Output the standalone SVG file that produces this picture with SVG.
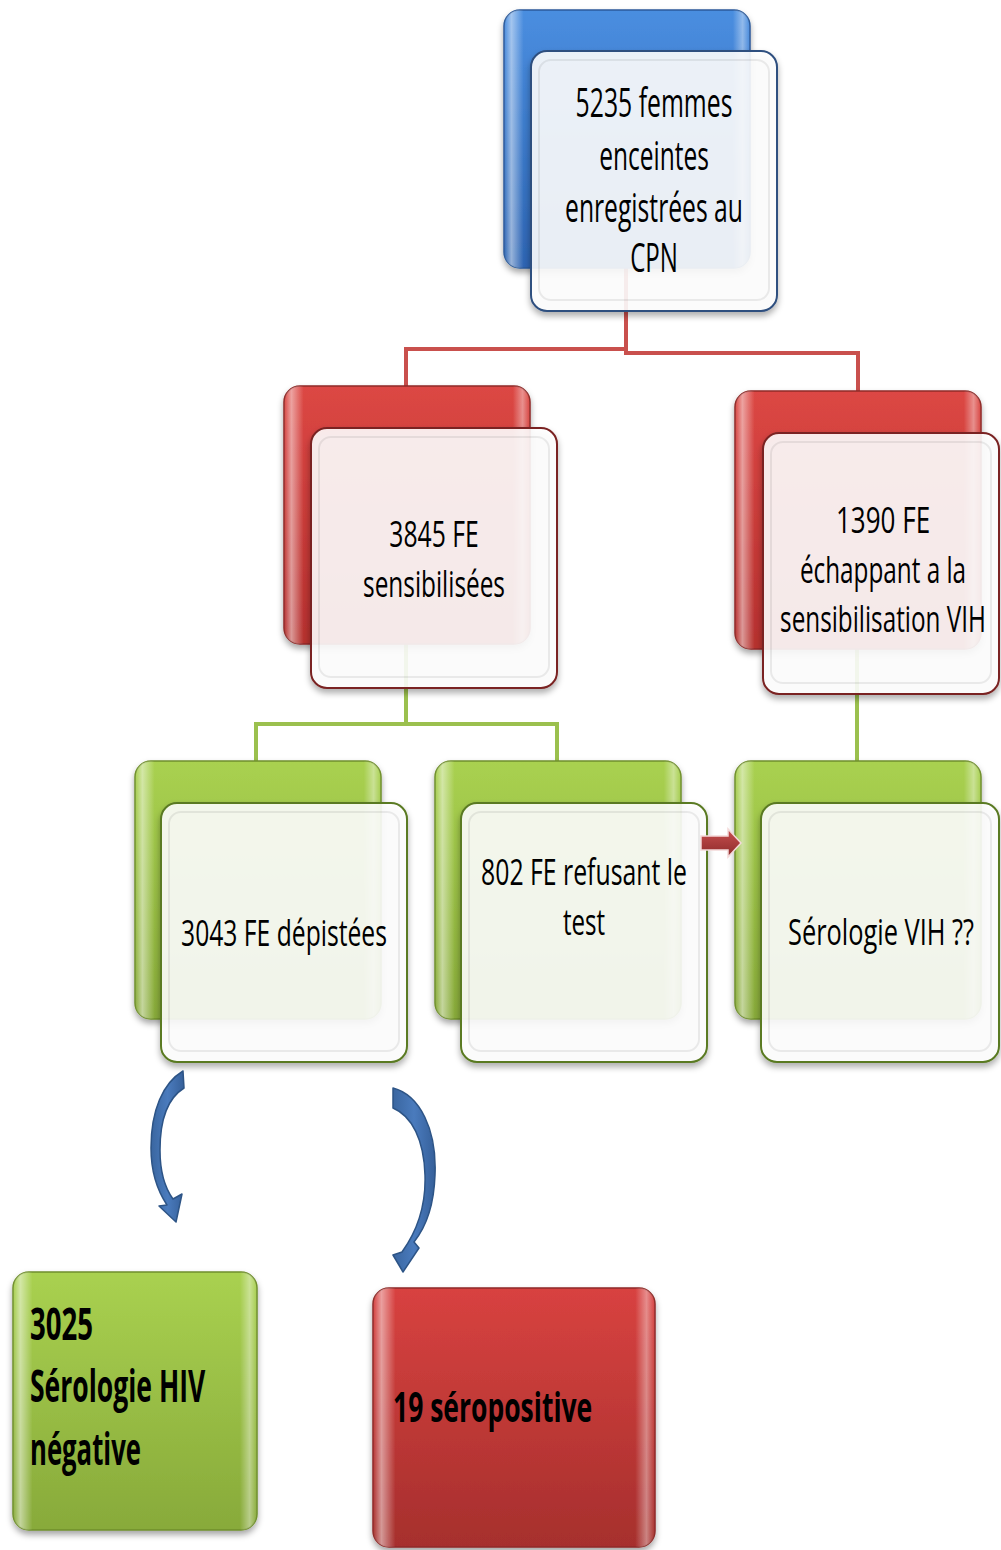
<svg xmlns="http://www.w3.org/2000/svg" width="1001" height="1550" viewBox="0 0 1001 1550">
  <defs>
    <linearGradient id="gBlue" x1="0" y1="0" x2="0" y2="1">
      <stop offset="0" stop-color="#4a8ee0"/>
      <stop offset="1" stop-color="#2d64b2"/>
    </linearGradient>
    <linearGradient id="gRed" x1="0" y1="0" x2="0" y2="1">
      <stop offset="0" stop-color="#dc4744"/>
      <stop offset="1" stop-color="#b5302e"/>
    </linearGradient>
    <linearGradient id="gGreen" x1="0" y1="0" x2="0" y2="1">
      <stop offset="0" stop-color="#a9d150"/>
      <stop offset="1" stop-color="#88aa3a"/>
    </linearGradient>
    <linearGradient id="gRedBox" x1="0" y1="0" x2="0" y2="1">
      <stop offset="0" stop-color="#d84240"/>
      <stop offset="1" stop-color="#a62f2d"/>
    </linearGradient>
    <linearGradient id="gGloss" x1="0" y1="0" x2="1" y2="0">
      <stop offset="0" stop-color="#fff" stop-opacity="0"/>
      <stop offset="0.03" stop-color="#fff" stop-opacity="0.5"/>
      <stop offset="0.08" stop-color="#fff" stop-opacity="0"/>
      <stop offset="0.93" stop-color="#fff" stop-opacity="0"/>
      <stop offset="0.97" stop-color="#fff" stop-opacity="0.4"/>
      <stop offset="1" stop-color="#fff" stop-opacity="0"/>
    </linearGradient>
    <linearGradient id="gArrowRed" x1="0" y1="0" x2="0" y2="1">
      <stop offset="0" stop-color="#c95050"/>
      <stop offset="1" stop-color="#8c2a2a"/>
    </linearGradient>
    <linearGradient id="gArrowBlue" x1="0" y1="0" x2="1" y2="0">
      <stop offset="0" stop-color="#3a66a0"/>
      <stop offset="0.5" stop-color="#4a7bbd"/>
      <stop offset="1" stop-color="#36609a"/>
    </linearGradient>
    <filter id="shadow" x="-10%" y="-10%" width="120%" height="125%">
      <feDropShadow dx="0" dy="4" stdDeviation="3" flood-color="#000" flood-opacity="0.35"/>
    </filter>
  </defs>
  <style>
    .back { stroke-width: 1.5; filter: url(#shadow); }
    .gloss { fill: url(#gGloss); }
    .card { fill: #ffffff; fill-opacity: 0.88; stroke-width: 2; filter: url(#shadow); }
    .bevel { fill: none; stroke: #000; stroke-opacity: 0.07; stroke-width: 2; }
    .blue { fill: url(#gBlue); stroke: #2c5a9a; }
    .red { fill: url(#gRed); stroke: #8e2a28; }
    .green { fill: url(#gGreen); stroke: #6f8f2c; }
    .cBlue { stroke: #2f4f7f; }
    .cRed { stroke: #7a2422; }
    .cGreen { stroke: #5a7a22; }
    .lbl { font-family: "Open Sans", "Liberation Sans", sans-serif; font-size: 36px; fill: #000; text-anchor: middle; }
    .big { font-size: 40px; }
    .bold { font-family: "Open Sans", "Liberation Sans", sans-serif; font-weight: bold; fill: #000; }
    .linkRed { fill: none; stroke: #c9504d; stroke-width: 4; }
    .linkGreen { fill: none; stroke: #9bc04e; stroke-width: 4; }
    .curve { fill: url(#gArrowBlue); stroke: #2d5486; stroke-width: 1.5; stroke-linejoin: round; }
  </style>

  <!-- hierarchy links (drawn below the translucent cards) -->
  <g id="connectors">
    <path class="linkRed" d="M626,268 V349 H406 V387"/>
    <path class="linkRed" d="M626,349 V353 H858 V392"/>
    <path class="linkGreen" d="M406,643 V724 H256 V762"/>
    <path class="linkGreen" d="M406,724 H557 V762"/>
    <path class="linkGreen" d="M857,648 V762"/>
  </g>

  <!-- level 0 -->
  <g id="node-total">
    <rect class="back blue" x="504" y="10" width="246" height="258" rx="16"/>
    <rect class="gloss" x="504" y="10" width="246" height="258" rx="16"/>
    <rect class="card cBlue" x="531" y="51" width="246" height="260" rx="16"/>
    <rect class="bevel" x="539" y="60" width="230" height="240" rx="12"/>
    <text class="lbl big" transform="translate(654,0) scale(0.62,1)" x="0" y="117" textLength="253" lengthAdjust="spacingAndGlyphs">5235 femmes</text>
    <text class="lbl big" transform="translate(654,0) scale(0.62,1)" x="0" y="170" textLength="177" lengthAdjust="spacingAndGlyphs">enceintes</text>
    <text class="lbl big" transform="translate(654,0) scale(0.62,1)" x="0" y="222" textLength="287" lengthAdjust="spacingAndGlyphs">enregistrées au</text>
    <text class="lbl big" transform="translate(654,0) scale(0.62,1)" x="0" y="272" textLength="77" lengthAdjust="spacingAndGlyphs">CPN</text>
  </g>

  <!-- level 1 -->
  <g id="node-sensibilisees">
    <rect class="back red" x="284" y="386" width="246" height="258" rx="16"/>
    <rect class="gloss" x="284" y="386" width="246" height="258" rx="16"/>
    <rect class="card cRed" x="311" y="428" width="246" height="260" rx="16"/>
    <rect class="bevel" x="319" y="437" width="230" height="240" rx="12"/>
    <text class="lbl" transform="translate(434,0) scale(0.62,1)" x="0" y="547" textLength="144" lengthAdjust="spacingAndGlyphs">3845 FE</text>
    <text class="lbl" transform="translate(434,0) scale(0.62,1)" x="0" y="597" textLength="229" lengthAdjust="spacingAndGlyphs">sensibilisées</text>
  </g>

  <g id="node-echappant">
    <rect class="back red" x="735" y="391" width="246" height="258" rx="16"/>
    <rect class="gloss" x="735" y="391" width="246" height="258" rx="16"/>
    <rect class="card cRed" x="763" y="433" width="236" height="261" rx="16"/>
    <rect class="bevel" x="771" y="442" width="220" height="241" rx="12"/>
    <text class="lbl" transform="translate(883,0) scale(0.62,1)" x="0" y="533" textLength="152" lengthAdjust="spacingAndGlyphs">1390 FE</text>
    <text class="lbl" transform="translate(883,0) scale(0.62,1)" x="0" y="583" textLength="268" lengthAdjust="spacingAndGlyphs">échappant a la</text>
    <text class="lbl" transform="translate(883,0) scale(0.62,1)" x="0" y="632" textLength="332" lengthAdjust="spacingAndGlyphs">sensibilisation VIH</text>
  </g>

  <!-- level 2 -->
  <g id="node-depistees">
    <rect class="back green" x="135" y="761" width="246" height="258" rx="16"/>
    <rect class="gloss" x="135" y="761" width="246" height="258" rx="16"/>
    <rect class="card cGreen" x="161" y="803" width="246" height="259" rx="16"/>
    <rect class="bevel" x="169" y="812" width="230" height="239" rx="12"/>
    <text class="lbl" transform="translate(284,0) scale(0.62,1)" x="0" y="946" textLength="332" lengthAdjust="spacingAndGlyphs">3043 FE dépistées</text>
  </g>

  <g id="node-refus">
    <rect class="back green" x="435" y="761" width="246" height="258" rx="16"/>
    <rect class="gloss" x="435" y="761" width="246" height="258" rx="16"/>
    <rect class="card cGreen" x="461" y="803" width="246" height="259" rx="16"/>
    <rect class="bevel" x="469" y="812" width="230" height="239" rx="12"/>
    <text class="lbl" transform="translate(584,0) scale(0.62,1)" x="0" y="885" textLength="332" lengthAdjust="spacingAndGlyphs">802 FE refusant le</text>
    <text class="lbl" transform="translate(584,0) scale(0.62,1)" x="0" y="935" textLength="68" lengthAdjust="spacingAndGlyphs">test</text>
  </g>

  <g id="node-serologie">
    <rect class="back green" x="735" y="761" width="246" height="258" rx="16"/>
    <rect class="gloss" x="735" y="761" width="246" height="258" rx="16"/>
    <rect class="card cGreen" x="761" y="803" width="238" height="259" rx="16"/>
    <rect class="bevel" x="769" y="812" width="222" height="239" rx="12"/>
    <text class="lbl" transform="translate(881,0) scale(0.62,1)" x="0" y="945" textLength="300" lengthAdjust="spacingAndGlyphs">Sérologie VIH ??</text>
  </g>

  <!-- results -->
  <g id="node-negative">
    <rect class="back green" x="13" y="1272" width="244" height="258" rx="16"/>
    <rect class="gloss" x="13" y="1272" width="244" height="258" rx="16"/>
    <text class="bold" transform="translate(30,0) scale(0.6,1)" x="0" y="1340" font-size="44" textLength="105" lengthAdjust="spacingAndGlyphs">3025</text>
    <text class="bold" transform="translate(30,0) scale(0.6,1)" x="0" y="1402" font-size="44" textLength="292" lengthAdjust="spacingAndGlyphs">Sérologie HIV</text>
    <text class="bold" transform="translate(30,0) scale(0.6,1)" x="0" y="1465" font-size="44" textLength="185" lengthAdjust="spacingAndGlyphs">négative</text>
  </g>

  <g id="node-positive">
    <rect class="back" x="373" y="1288" width="282" height="259" rx="16" fill="url(#gRedBox)" stroke="#8e2a28"/>
    <rect class="gloss" x="373" y="1288" width="282" height="259" rx="16"/>
    <text class="bold" transform="translate(393,0) scale(0.6,1)" x="0" y="1422" font-size="42" textLength="332" lengthAdjust="spacingAndGlyphs">19 séropositive</text>
  </g>

  <!-- block arrows drawn over the cards -->
  <g id="arrows">
    <path d="M701,836 H728 V829 L741,843 L728,857 V850 H701 Z" fill="url(#gArrowRed)" stroke="#f3d9d9" stroke-width="1.5"/>
    <path class="curve" d="M183,1071 L184,1088 C168,1098 160,1120 160,1150 C160,1172 165,1188 173,1199 L182,1194 L176,1222 L159,1206 L167,1205 C157,1190 151,1170 151,1148 C151,1110 163,1083 183,1071 Z"/>
    <path class="curve" d="M393,1088 C420,1095 437,1130 435,1175 C434,1205 426,1227 414,1242 L419,1248 L403,1272 L393,1255 L402,1252 C418,1230 426,1205 425,1175 C424,1140 412,1116 393,1108 Z"/>
  </g>
</svg>
